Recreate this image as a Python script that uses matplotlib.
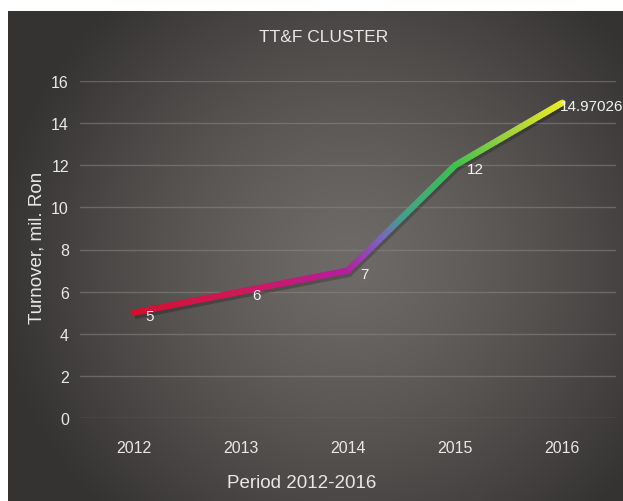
import numpy as np
import matplotlib
matplotlib.use("Agg")
import matplotlib.pyplot as plt
from matplotlib.collections import LineCollection
from matplotlib.colors import LinearSegmentedColormap
from matplotlib.transforms import ScaledTranslation

# chart data
years = ['2012', '2013', '2014', '2015', '2016']
turnover = [5, 6, 7, 12, 14.97026]
value_labels = ['5', '6', '7', '12', '14.97026']
yticks = [0, 2, 4, 6, 8, 10, 12, 14, 16]

plt.rcParams['font.family'] = ['Liberation Sans', 'DejaVu Sans']
text_col = '#e8e8e8'

fig = plt.figure(figsize=(6.23, 5.02), dpi=100)
fig.patch.set_facecolor('white')

# dark panel with a soft radial highlight in the middle
bg = fig.add_axes([8 / 623, 0, 615 / 623, 490 / 502])
bg.axis('off')
h, w = 490, 615
yy, xx = np.mgrid[0:h, 0:w]
r = np.sqrt(((xx - 340) / 350.0) ** 2 + ((yy - 250) / 340.0) ** 2)
t = np.clip(r, 0, 1) ** 1.3
light = np.array([0x6e, 0x6a, 0x68]) / 255.0
dark = np.array([0x36, 0x34, 0x33]) / 255.0
img = light * (1 - t[..., None]) + dark * t[..., None]
bg.imshow(img, aspect='auto', extent=[0, 1, 0, 1])
bg.set_xlim(0, 1)
bg.set_ylim(0, 1)

# plot area
ax = fig.add_axes([80 / 623, 83 / 502, 536 / 623, 337 / 502])
ax.patch.set_alpha(0)
x = np.arange(len(years))
ax.set_xlim(-0.5, 4.5)
ax.set_ylim(0, 16)
ax.set_yticks(yticks)
ax.set_xticks(x, years)
ax.grid(axis='y', color='#8a8684', alpha=0.55, lw=1)
ax.set_axisbelow(True)
for s in ax.spines.values():
    s.set_visible(False)
ax.tick_params(length=0, colors=text_col, labelsize=11.5)
ax.tick_params(axis='y', pad=8)
ax.tick_params(axis='x', pad=16)

# colour ramp along the line, red -> magenta -> green -> yellow
cmap = LinearSegmentedColormap.from_list('ramp', [
    (0.0, '#d2102e'),
    (0.25, '#d0185a'),
    (0.5, '#b41e9c'),
    (0.58, '#7a64c0'),
    (0.63, '#44a08c'),
    (0.75, '#3cc050'),
    (0.87, '#98d040'),
    (1.0, '#eaea22'),
])

pts = np.column_stack([x, turnover]).astype(float)
segs = []
cvals = []
n = 40
for i in range(len(pts) - 1):
    for k in range(n):
        f0, f1 = k / n, (k + 1) / n
        p0 = pts[i] + (pts[i + 1] - pts[i]) * f0
        p1 = pts[i] + (pts[i + 1] - pts[i]) * f1
        segs.append([p0, p1])
        cvals.append((p0[0] + p1[0]) / 2 / x[-1])

# soft shadow under the line
shadow = ax.transData + ScaledTranslation(1 / 100, -3 / 100, fig.dpi_scale_trans)
ax.plot(x, turnover, color='black', alpha=0.22, lw=5, transform=shadow,
        solid_capstyle='butt', solid_joinstyle='round')

lc = LineCollection(segs, colors=cmap(np.array(cvals)), linewidths=4.5,
                    capstyle='round')
ax.add_collection(lc)

for i, (xi, yi, lbl) in enumerate(zip(x, turnover, value_labels)):
    dx = -1.5 if i == len(x) - 1 else 8.5
    ax.annotate(lbl, (xi, yi), xytext=(dx, -2.5), textcoords='offset points',
                ha='left', va='center', color='#f2f2f2', fontsize=11)

fig.text(324 / 623, 1 - 38 / 502, 'TT&F CLUSTER', ha='center', va='center',
         fontsize=12.5, color=text_col)
fig.text(37 / 623, 1 - 248 / 502, 'Turnover, mil. Ron', rotation=90,
         ha='center', va='center', fontsize=13.5, color=text_col)
fig.text(302 / 623, 1 - 484 / 502, 'Period 2012-2016', ha='center',
         va='center', fontsize=13.5, color=text_col)

fig.savefig('out.png', dpi=100)
